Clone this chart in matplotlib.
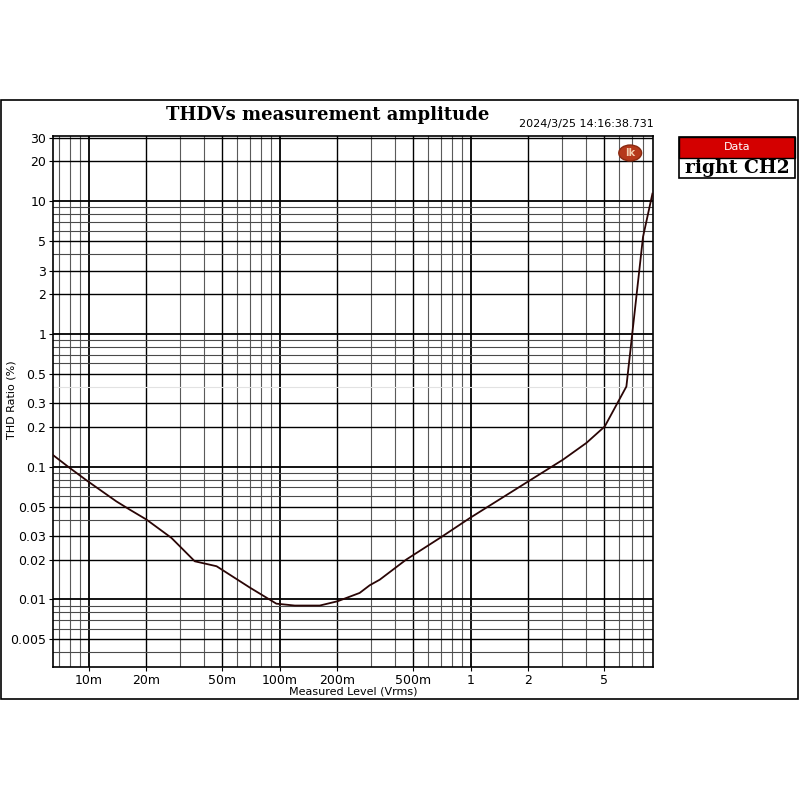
import numpy as np
import matplotlib
matplotlib.use('Agg')
import matplotlib.pyplot as plt
from matplotlib.patches import Rectangle, Ellipse

# measured level (Vrms) and THD ratio (%)
level = [0.00638, 0.00796, 0.0099, 0.01396, 0.0164, 0.02005, 0.0271, 0.0359,
         0.0467, 0.0697, 0.096, 0.12, 0.162, 0.201, 0.262, 0.296, 0.334,
         0.46, 0.703, 0.99, 2.04, 3.04, 4.03, 5.03, 6.53, 7.98, 8.94]
thd = [0.125, 0.0978, 0.0776, 0.0548, 0.0475, 0.040, 0.0291, 0.0194,
       0.0178, 0.0123, 0.0093, 0.0090, 0.0090, 0.0097, 0.0112, 0.0128, 0.0141,
       0.020, 0.0296, 0.0411, 0.0789, 0.113, 0.151, 0.201, 0.402, 5.39, 11.4]

xticks = [0.01, 0.02, 0.05, 0.1, 0.2, 0.5, 1, 2, 5]
xticklabels = ['10m', '20m', '50m', '100m', '200m', '500m', '1', '2', '5']
yticks = [30, 20, 10, 5, 3, 2, 1, 0.5, 0.3, 0.2, 0.1, 0.05, 0.03, 0.02, 0.01, 0.005]
yticklabels = ['30', '20', '10', '5', '3', '2', '1', '0.5', '0.3', '0.2', '0.1',
               '0.05', '0.03', '0.02', '0.01', '0.005']

fig = plt.figure(figsize=(8, 8), dpi=100)
ax = fig.add_axes([0.06625, 0.16625, 0.75, 0.66375])
ax.set_xscale('log')
ax.set_yscale('log')
xlim = (0.0065, 9.0)
ylim = (0.0031, 31)
ax.set_xlim(*xlim)
ax.set_ylim(*ylim)

# grid: all 1..9 multiples, labelled ones darker, decades thickest
for e in range(-3, 2):
    for k in range(1, 10):
        v = k * 10.0 ** e
        if xlim[0] < v < xlim[1]:
            if k == 1:
                ax.axvline(v, color='black', lw=1.3, zorder=1)
            elif k in (2, 5):
                ax.axvline(v, color='black', lw=1.0, zorder=1)
            else:
                ax.axvline(v, color='#5a5a5a', lw=0.8, zorder=1)
for e in range(-3, 2):
    for k in range(1, 10):
        v = k * 10.0 ** e
        if ylim[0] < v < ylim[1]:
            if k == 1:
                ax.axhline(v, color='black', lw=1.3, zorder=1)
            elif k in (2, 3, 5):
                ax.axhline(v, color='black', lw=1.0, zorder=1)
            elif k == 4 and e == -1:
                ax.axhline(v, color='#e2e2e2', lw=0.8, zorder=1)
            else:
                ax.axhline(v, color='#4a4a4a', lw=0.8, zorder=1)

ax.plot(level, thd, color='#2a0505', lw=1.3, zorder=3)

ax.set_xticks(xticks)
ax.set_xticklabels(xticklabels, fontsize=9)
ax.set_yticks(yticks)
ax.set_yticklabels(yticklabels, fontsize=9)
ax.minorticks_off()
ax.tick_params(length=3, width=0.8, pad=2)
for s in ax.spines.values():
    s.set_linewidth(1.2)

ax.set_xlabel('Measured Level (Vrms)', fontsize=8, labelpad=0)
fig.text(0.0145, 0.5, 'THD Ratio (%)', rotation=90, ha='center', va='center', fontsize=8)

# logo
ax.add_patch(Ellipse((0.962, 0.968), 0.038, 0.03, transform=ax.transAxes,
                     facecolor='#b5391a', edgecolor='#8a2a10', zorder=4))
ax.text(0.962, 0.968, 'lk', transform=ax.transAxes, ha='center', va='center',
        fontsize=7, color='#f5d0b0', fontweight='bold', zorder=5)

fig.text(0.409, 0.856, 'THDVs measurement amplitude', ha='center', va='center',
         fontsize=13, fontweight='bold', family='DejaVu Serif')
fig.text(0.733, 0.845, '2024/3/25 14:16:38.731', ha='center', va='center', fontsize=8)

# outer frame
fig.add_artist(Rectangle((0.0015, 0.12625), 0.996, 0.74875, transform=fig.transFigure,
                         fill=False, edgecolor='black', lw=1.2))

# legend box
fig.add_artist(Rectangle((0.849, 0.803), 0.145, 0.026, transform=fig.transFigure,
                         facecolor='#d40000', edgecolor='black', lw=1))
fig.add_artist(Rectangle((0.849, 0.777), 0.145, 0.052, transform=fig.transFigure,
                         fill=False, edgecolor='black', lw=1.2))
fig.text(0.9215, 0.816, 'Data', ha='center', va='center', fontsize=8, color='white')
fig.text(0.9215, 0.790, 'right CH2', ha='center', va='center', fontsize=13.5,
         fontweight='bold', family='DejaVu Serif')

fig.savefig('out.png', dpi=100)
